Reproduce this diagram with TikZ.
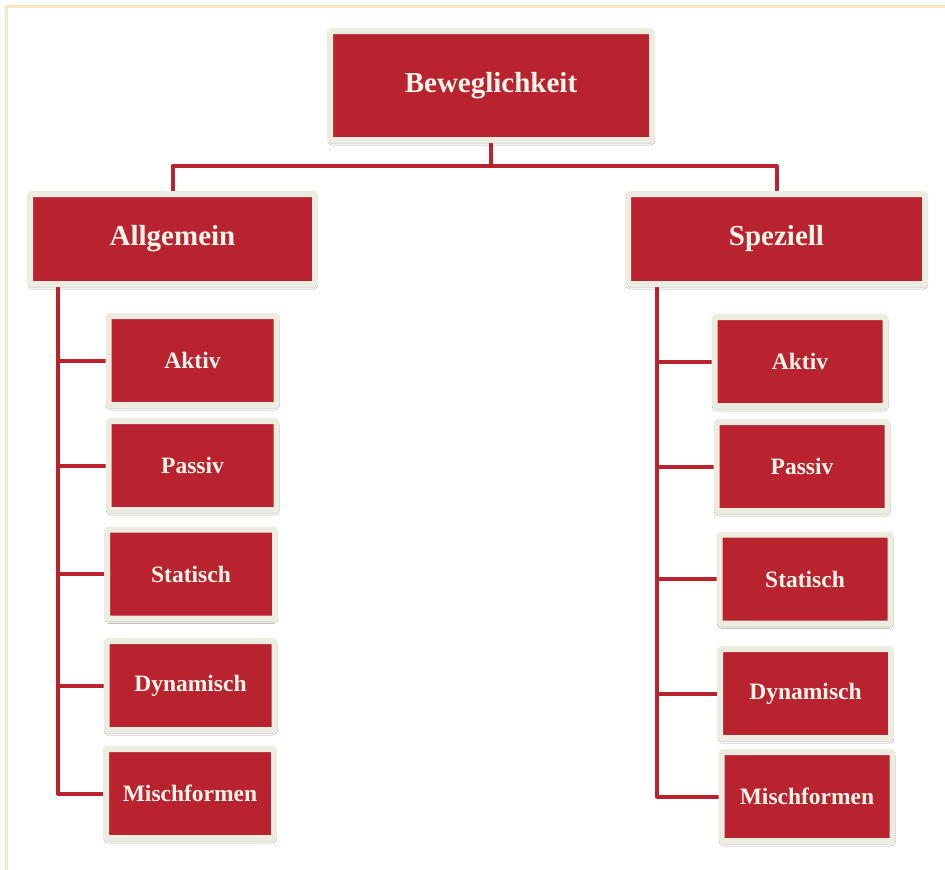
\documentclass[tikz,border=0pt]{standalone}
\usepackage{fontspec}
\setmainfont{Liberation Serif}
\usetikzlibrary{shadows.blur,backgrounds}
\definecolor{boxred}{HTML}{B8232F}
\definecolor{boxrim}{HTML}{EDECE0}
\definecolor{boxtext}{HTML}{F7F4EA}
\definecolor{pagerule}{HTML}{FBE5C6}
\tikzset{
  box/.style={draw=boxrim, fill=boxred, line width=6pt, rounded corners=1.5pt,
    text=boxtext, inner sep=0pt,
    blur shadow={shadow xshift=0.3pt, shadow yshift=-2.5pt,
      shadow blur radius=2.5pt, shadow opacity=50}},
  bigbox/.style={box, font=\bfseries\fontsize{29}{32}\selectfont},
  smallbox/.style={box, font=\bfseries\fontsize{23.5}{26}\selectfont,
    minimum width=168pt, minimum height=89pt},
  widebox/.style={smallbox, minimum width=171pt},
  link/.style={draw=boxred, line width=4pt, line join=round},
  pageline/.style={draw=pagerule, line width=3pt}
}
\begin{document}
\begin{tikzpicture}[x=1pt, y=-1pt]
  \useasboundingbox (0,0) rectangle (945,870);

  % root and the two main branches
  \node[bigbox, minimum width=322pt, minimum height=109pt] (top) at (491,85.5) {Beweglichkeit};
  \node[bigbox, minimum width=285pt, minimum height=90pt] (allg) at (172.5,239) {Allgemein};
  \node[bigbox, minimum width=297pt, minimum height=90pt] (spez) at (776.5,239) {Speziell};

  % left column
  \node[smallbox] (l1) at (192.5,360.5) {Aktiv};
  \node[smallbox] (l2) at (192.5,465.5) {Passiv};
  \node[smallbox] (l3) at (191,574) {Statisch};
  \node[smallbox] (l4) at (190.5,685.5) {Dynamisch};
  \node[smallbox] (l5) at (190,793.5) {Mischformen};

  % right column
  \node[widebox] (r1) at (800,361.5) {Aktiv};
  \node[widebox] (r2) at (802,466.5) {Passiv};
  \node[widebox] (r3) at (805,579) {Statisch};
  \node[widebox] (r4) at (805.5,693.5) {Dynamisch};
  \node[widebox] (r5) at (807,796.5) {Mischformen};

  \coordinate (lspine) at (58,0);
  \coordinate (rspine) at (657,0);

  \begin{scope}[on background layer]
    % white page with rules along the top and left edges
    \fill[white] (0,0) rectangle (945,870);
    \draw[pageline] (5,6) -- (945,6);
    \draw[pageline] (6,5) -- (6,870);
    % tree connectors, tucked under the boxes
    \draw[link] (top.south) -- ++(0,23) -| (allg.north);
    \draw[link] (top.south) -- ++(0,23) -| (spez.north);
    \draw[link] (allg.south -| lspine) |- (l5.west);
    \draw[link] (spez.south -| rspine) |- (r5.west);
    \foreach \i in {1,...,4} {
      \draw[link] (l\i.west) -- (l\i.west -| lspine);
      \draw[link] (r\i.west) -- (r\i.west -| rspine);
    }
  \end{scope}
\end{tikzpicture}
\end{document}
